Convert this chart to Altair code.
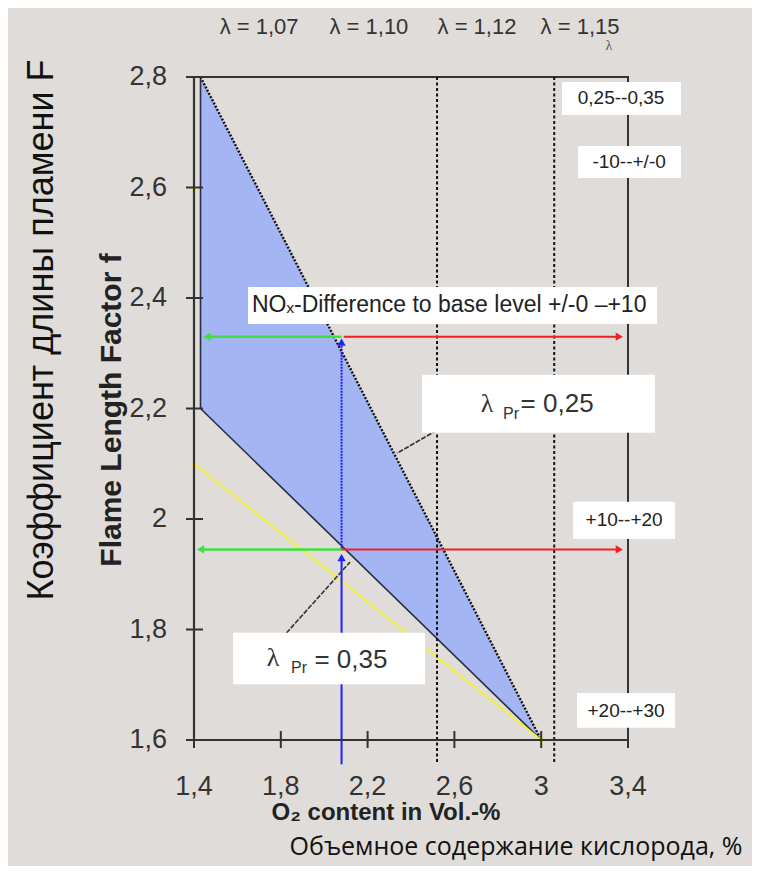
import altair as alt
import pandas as pd

# ---------------- data ----------------
x_ticks = [1.4, 1.8, 2.2, 2.6, 3.0, 3.4]
x_tick_labels = ["1,4", "1,8", "2,2", "2,6", "3", "3,4"]
y_ticks = [1.6, 1.8, 2.0, 2.2, 2.4, 2.6, 2.8]
y_tick_labels = ["1,6", "1,8", "2", "2,2", "2,4", "2,6", "2,8"]

zone_x = [1.43, 3.0]
zone_upper = [2.8, 1.6]
zone_lower = [2.2, 1.6]

# solid boundary segments of the operating zone (x, y, x2, y2)
solid_x = [1.43, 1.43]
solid_y = [2.2, 2.2]
solid_x2 = [3.0, 1.43]
solid_y2 = [1.6, 2.8]

# dotted black upper boundary
upper_x, upper_y, upper_x2, upper_y2 = [1.43], [2.8], [3.0], [1.6]
# dotted lambda verticals
vert_x = [2.52, 3.06]
vert_y = [1.56, 1.56]
vert_y2 = [2.8, 2.8]

yellow_x = [1.4]
yellow_y = [2.1]
yellow_x2 = [3.0]
yellow_y2 = [1.6]
yellow_mark_x = [1.4, 1.4, 3.0]
yellow_mark_y = [2.6, 2.1, 1.6]
yellow_mark_shape = ["triangle-up", "triangle-up", "circle"]

op_x = 2.08
f_levels = [2.33, 1.945]
blue_solid_y = [1.556, 1.93]
blue_dot_y = [1.946, 2.32]
green_end = [1.46, 1.43]
red_end = [3.36, 3.36]

leader_x = [2.649, 1.806]
leader_y = [2.190, 1.785]
leader_x2 = [2.335, 2.119]
leader_y2 = [2.119, 1.922]

box_x = [1.649, 2.451, 1.580, 3.096, 3.170, 3.147, 3.165]
box_x2 = [3.534, 3.524, 2.465, 3.644, 3.644, 3.617, 3.617]
box_y = [2.353, 2.156, 1.701, 2.731, 2.617, 1.964, 1.622]
box_y2 = [2.420, 2.261, 1.794, 2.791, 2.675, 2.031, 1.685]

range_labels = ["0,25--0,35", "-10--+/-0", "+10--+20", "+20--+30"]
range_x = [3.368, 3.405, 3.382, 3.391]
range_y = [2.762, 2.646, 1.998, 1.652]

top_labels = ["λ = 1,07", "λ = 1,10", "λ = 1,12", "λ = 1,15"]
top_x = [1.700, 2.206, 2.704, 3.179]
top_y = [2.890, 2.890, 2.890, 2.890]

lam_x = [2.750, 1.764]
lam_y = [2.208, 1.748]
pr_x = [2.824, 1.847]
pr_y = [2.190, 1.730]
val_labels = ["= 0,25", "= 0,35"]
val_x = [2.905, 1.955]
val_y = [2.208, 1.745]

nox_label = "NOₓ-Difference to base level +/-0 –+10"
nox_x = [1.667]
nox_y = [2.387]

W, H = 434, 663
BG = "#e0dcd9"
DARK = "#333333"

xs = alt.Scale(domain=[1.4, 3.4], nice=False, zero=False)
ys = alt.Scale(domain=[1.6, 2.8], nice=False, zero=False)


def X(f="x"):
    return alt.X(f"{f}:Q", scale=xs, axis=None)


def Y(f="y"):
    return alt.Y(f"{f}:Q", scale=ys, axis=None)


# ---------------- layers ----------------
zone = alt.Chart(pd.DataFrame({"x": zone_x, "hi": zone_upper, "lo": zone_lower})).mark_area(
    color="#a3b5f2", opacity=1
).encode(x=X(), y=Y("hi"), y2="lo:Q")


def seg_layer(xa, ya, xb, yb, **mark):
    df = pd.DataFrame({"x": xa, "y": ya, "x2": xb, "y2": yb})
    return alt.Chart(df).mark_rule(**mark).encode(x=X(), y=Y(), x2="x2:Q", y2="y2:Q")


solid = seg_layer(solid_x, solid_y, solid_x2, solid_y2, color="#2a2d40", strokeWidth=1.6)
upper = seg_layer(upper_x, upper_y, upper_x2, upper_y2, color="#111111",
                  strokeWidth=2.4, strokeDash=[2, 1.6])
verts = seg_layer(vert_x, vert_y, vert_x, vert_y2, color="#111111",
                  strokeWidth=2, strokeDash=[3, 2.5])
yellow = seg_layer(yellow_x, yellow_y, yellow_x2, yellow_y2, color="#f2f03a", strokeWidth=2)
yellow_pts = alt.Chart(pd.DataFrame({"x": yellow_mark_x, "y": yellow_mark_y,
                                     "s": yellow_mark_shape})).mark_point(
    filled=True, color="#f2f03a", size=45, opacity=1
).encode(x=X(), y=Y(), shape=alt.Shape("s:N", scale=None))

blue_solid = seg_layer([op_x], [blue_solid_y[0]], [op_x], [blue_solid_y[1]],
                       color="#1f1fff", strokeWidth=2)
blue_dot = seg_layer([op_x], [blue_dot_y[0]], [op_x], [blue_dot_y[1]],
                     color="#1f1fff", strokeWidth=2, strokeDash=[2, 1])
green = seg_layer([op_x, op_x], f_levels, green_end, f_levels, color="#3ee03e", strokeWidth=2.5)
red = seg_layer([op_x + 0.01, op_x], f_levels, red_end, f_levels, color="#ee2222", strokeWidth=2)
leaders = seg_layer(leader_x, leader_y, leader_x2, leader_y2, color="#333333",
                    strokeWidth=1.6, strokeDash=[5, 1.5])

arrow_df = pd.DataFrame({
    "x": [op_x, op_x, green_end[0], green_end[1], red_end[0], red_end[1]],
    "y": [blue_dot_y[1], blue_solid_y[1], f_levels[0], f_levels[1], f_levels[0], f_levels[1]],
    "s": ["triangle-up", "triangle-up", "triangle-left", "triangle-left",
          "triangle-right", "triangle-right"],
    "c": ["#1f1fff", "#1f1fff", "#3ee03e", "#3ee03e", "#ee2222", "#ee2222"],
})
arrows = alt.Chart(arrow_df).mark_point(filled=True, size=70, opacity=1).encode(
    x=X(), y=Y(), shape=alt.Shape("s:N", scale=None), color=alt.Color("c:N", scale=None),
)

# axis lines, ticks crossing the axes, tick labels
axis_lines = alt.Chart(pd.DataFrame({"x": [1.4, 1.4], "y": [1.6, 1.6],
                                     "x2": [3.4, 1.4], "y2": [1.6, 2.8]})).mark_rule(
    color=DARK, strokeWidth=2.2).encode(x=X(), y=Y(), x2="x2:Q", y2="y2:Q")
xtick = alt.Chart(pd.DataFrame({"x": x_ticks})).mark_rule(color=DARK, strokeWidth=2).encode(
    x=X(), y=alt.value(H - 9), y2=alt.value(H + 8))
ytick = alt.Chart(pd.DataFrame({"y": y_ticks})).mark_rule(color=DARK, strokeWidth=2).encode(
    y=Y(), x=alt.value(-8), x2=alt.value(9))
xlab = alt.Chart(pd.DataFrame({"x": x_ticks, "t": x_tick_labels})).mark_text(
    font="Liberation Sans", fontSize=27, color=DARK, align="center", baseline="alphabetic"
).encode(x=X(), y=alt.value(H + 55), text="t:N")
ylab = alt.Chart(pd.DataFrame({"y": y_ticks, "t": y_tick_labels})).mark_text(
    font="Liberation Sans", fontSize=27, color=DARK, align="right", baseline="middle"
).encode(y=Y(), x=alt.value(-27), text="t:N")

boxes = alt.Chart(pd.DataFrame({"x": box_x, "x2": box_x2, "y": box_y, "y2": box_y2})).mark_rect(
    color="white", opacity=1
).encode(x=X(), x2="x2:Q", y=Y(), y2="y2:Q")


def text_layer(labels, xv, yv, **mark):
    df = pd.DataFrame({"t": labels, "x": xv, "y": yv})
    return alt.Chart(df).mark_text(**mark).encode(x=X(), y=Y(), text="t:N")


range_text = text_layer(range_labels, range_x, range_y, font="Liberation Sans",
                        fontSize=19, color="#222222", align="center", baseline="middle")
top_text = text_layer(top_labels, top_x, top_y, font="Liberation Sans",
                      fontSize=22, color="#333333", align="center", baseline="middle")
small_lam = text_layer(["λ"], [3.312], [2.856], font="Liberation Serif",
                       fontSize=14, color="#555555", align="center", baseline="middle")
lam_text = text_layer(["λ", "λ"], lam_x, lam_y, font="Liberation Serif",
                      fontSize=26, color="#333333", align="center", baseline="middle")
pr_text = text_layer(["Pr", "Pr"], pr_x, pr_y, font="Liberation Sans",
                     fontSize=16, color="#333333", align="left", baseline="middle")
val_text = text_layer(val_labels, val_x, val_y, font="Liberation Sans",
                      fontSize=26, color="#333333", align="left", baseline="middle")
nox_text = text_layer([nox_label], nox_x, nox_y, font="Liberation Sans",
                      fontSize=23, color="#222222", align="left", baseline="middle")


# titles (pixel placement relative to plot area)
def title_layer(text, px, py, **mark):
    return alt.Chart(pd.DataFrame({"t": [text]})).mark_text(**mark).encode(
        x=alt.value(px), y=alt.value(py), text="t:N")


ytitle_en = title_layer("Flame Length Factor f", -82, 333, font="Liberation Sans",
                        fontWeight="bold", fontSize=30, color="#222222", angle=270,
                        align="center", baseline="middle")
ytitle_ru = title_layer("Коэффициент длины пламени F", -152, 253, font="Liberation Sans",
                        fontSize=36, color="#111111", angle=270,
                        align="center", baseline="middle")
xtitle_en = title_layer("O₂ content in Vol.-%", 192, 736, font="Liberation Sans",
                        fontWeight="bold", fontSize=24, color="#222222",
                        align="center", baseline="middle")
xtitle_ru = title_layer("Объемное содержание кислорода, %", 322, 770, font="Open Sans",
                        fontSize=25, color="#111111", align="center", baseline="middle")

chart = alt.layer(
    zone, solid, yellow, upper, verts, blue_solid, blue_dot, green, red, leaders,
    yellow_pts, arrows, axis_lines, xtick, ytick, boxes, xlab, ylab,
    range_text, top_text, small_lam, lam_text, pr_text, val_text, nox_text,
    ytitle_en, ytitle_ru, xtitle_en, xtitle_ru,
).properties(
    width=W, height=H, background=BG,
    padding={"left": 186, "top": 69, "right": 124, "bottom": 126},
    autosize=alt.AutoSizeParams(type="none"),
).configure_view(stroke=DARK, strokeWidth=2)

chart.save("out.html", embed_options={"renderer": "svg", "actions": False})
